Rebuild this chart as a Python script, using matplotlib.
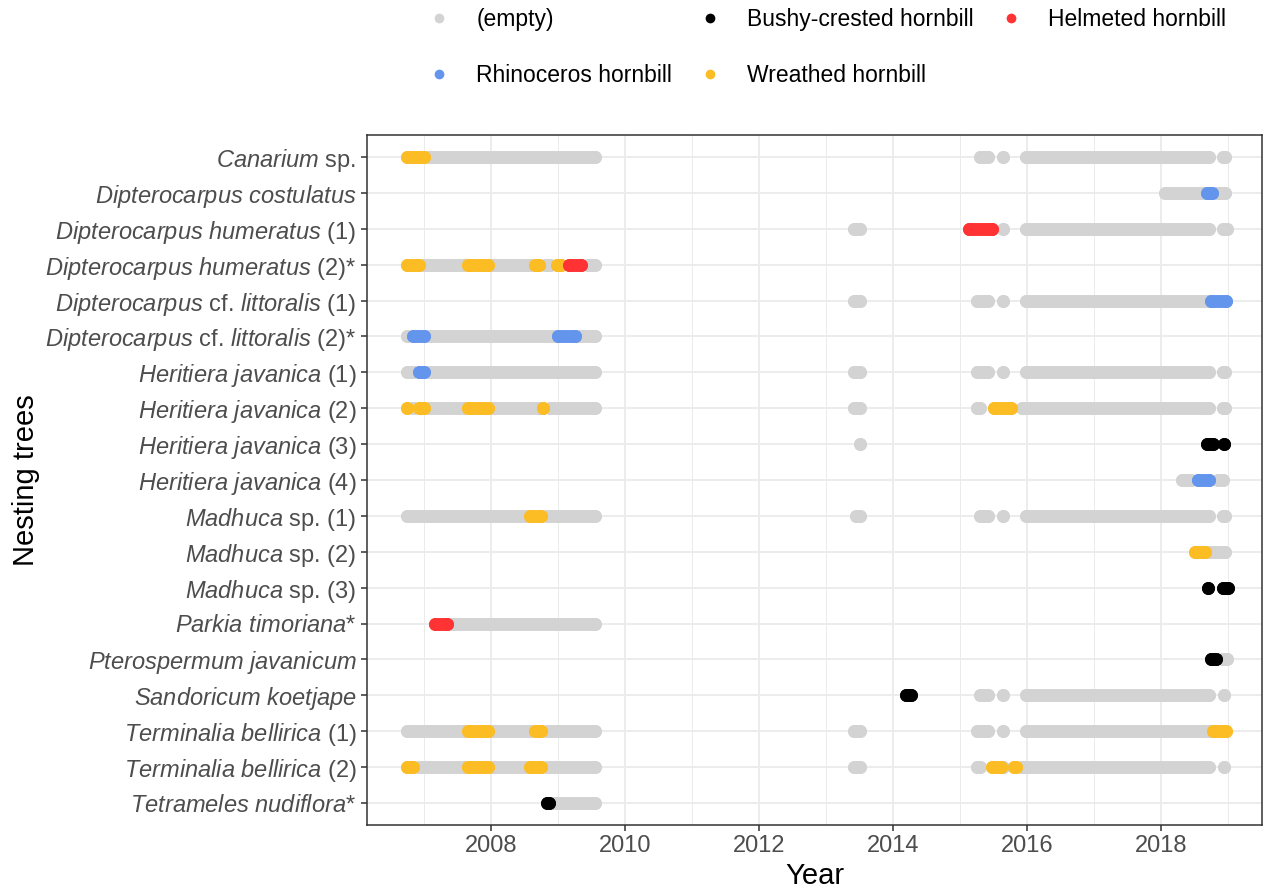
import matplotlib
matplotlib.use("Agg")
import matplotlib.pyplot as plt
from matplotlib.lines import Line2D
from matplotlib.ticker import MultipleLocator

plt.rcParams['font.family'] = ['Liberation Sans', 'DejaVu Sans']
plt.rcParams['mathtext.fontset'] = 'custom'
plt.rcParams['mathtext.it'] = 'Liberation Sans:italic'
plt.rcParams['mathtext.rm'] = 'Liberation Sans'

# nesting trees, top to bottom
trees = [
    r"$\mathit{Canarium}$ sp.",
    r"$\mathit{Dipterocarpus\ costulatus}$",
    r"$\mathit{Dipterocarpus\ humeratus}$ (1)",
    r"$\mathit{Dipterocarpus\ humeratus}$ (2)*",
    r"$\mathit{Dipterocarpus}$ cf. $\mathit{littoralis}$ (1)",
    r"$\mathit{Dipterocarpus}$ cf. $\mathit{littoralis}$ (2)*",
    r"$\mathit{Heritiera\ javanica}$ (1)",
    r"$\mathit{Heritiera\ javanica}$ (2)",
    r"$\mathit{Heritiera\ javanica}$ (3)",
    r"$\mathit{Heritiera\ javanica}$ (4)",
    r"$\mathit{Madhuca}$ sp. (1)",
    r"$\mathit{Madhuca}$ sp. (2)",
    r"$\mathit{Madhuca}$ sp. (3)",
    r"$\mathit{Parkia\ timoriana}$*",
    r"$\mathit{Pterospermum\ javanicum}$",
    r"$\mathit{Sandoricum\ koetjape}$",
    r"$\mathit{Terminalia\ bellirica}$ (1)",
    r"$\mathit{Terminalia\ bellirica}$ (2)",
    r"$\mathit{Tetrameles\ nudiflora}$*",
]

# observed runs of monthly checks: (tree index, first year, last year)
empty_runs = [
    (0, 2007.08, 2009.55), (0, 2015.30, 2015.42), (0, 2015.64, 2015.64), (0, 2015.99, 2018.71), (0, 2018.93, 2018.96),
    (1, 2018.06, 2018.62), (1, 2018.83, 2018.95),
    (2, 2013.42, 2013.50), (2, 2015.64, 2015.64), (2, 2015.99, 2018.71), (2, 2018.92, 2018.99),
    (3, 2007.00, 2007.58), (3, 2008.00, 2008.58), (3, 2008.80, 2008.88), (3, 2009.45, 2009.55),
    (4, 2013.42, 2013.50), (4, 2015.26, 2015.42), (4, 2015.64, 2015.64), (4, 2015.99, 2018.71),
    (5, 2006.75, 2006.75), (5, 2007.08, 2008.92), (5, 2009.33, 2009.55),
    (6, 2006.75, 2006.83), (6, 2007.08, 2009.55), (6, 2013.42, 2013.50), (6, 2015.26, 2015.42),
    (6, 2015.64, 2015.64), (6, 2015.99, 2018.71), (6, 2018.93, 2018.96),
    (7, 2006.83, 2006.83), (7, 2007.08, 2007.58), (7, 2008.00, 2008.72), (7, 2008.88, 2009.55),
    (7, 2013.42, 2013.50), (7, 2015.25, 2015.30), (7, 2015.92, 2018.71), (7, 2018.93, 2018.96),
    (8, 2013.50, 2013.50),
    (9, 2018.32, 2018.45), (9, 2018.85, 2018.93),
    (10, 2006.75, 2008.50), (10, 2008.83, 2009.55), (10, 2013.45, 2013.50), (10, 2015.30, 2015.42),
    (10, 2015.64, 2015.64), (10, 2015.99, 2018.71), (10, 2018.93, 2018.96),
    (11, 2018.73, 2018.95),
    (13, 2007.42, 2009.55),
    (14, 2018.93, 2018.98),
    (15, 2015.30, 2015.42), (15, 2015.64, 2015.64), (15, 2015.99, 2018.71), (15, 2018.94, 2018.94),
    (16, 2006.75, 2007.58), (16, 2008.00, 2008.58), (16, 2008.83, 2009.55), (16, 2013.42, 2013.50),
    (16, 2015.26, 2015.42), (16, 2015.64, 2015.64), (16, 2015.99, 2018.71),
    (17, 2006.92, 2007.58), (17, 2008.00, 2008.50), (17, 2008.83, 2009.55), (17, 2013.42, 2013.50),
    (17, 2015.25, 2015.30), (17, 2015.64, 2015.64), (17, 2015.92, 2018.71), (17, 2018.94, 2018.94),
    (18, 2008.92, 2009.55),
]
bushy_runs = [
    (8, 2018.69, 2018.77), (8, 2018.94, 2018.94),
    (12, 2018.70, 2018.70), (12, 2018.93, 2019.00),
    (14, 2018.75, 2018.82),
    (15, 2014.19, 2014.27),
    (18, 2008.83, 2008.86),
]
helmeted_runs = [
    (2, 2015.13, 2015.47),
    (3, 2009.17, 2009.35),
    (13, 2007.16, 2007.35),
]
rhino_runs = [
    (1, 2018.68, 2018.76),
    (4, 2018.75, 2018.97),
    (5, 2006.83, 2007.00), (5, 2009.00, 2009.25),
    (6, 2006.92, 2007.00),
    (9, 2018.55, 2018.72),
]
wreathed_runs = [
    (0, 2006.75, 2007.00),
    (3, 2006.75, 2006.92), (3, 2007.66, 2007.95), (3, 2008.66, 2008.72), (3, 2008.98, 2009.05),
    (7, 2006.75, 2006.75), (7, 2006.92, 2007.00), (7, 2007.66, 2007.95), (7, 2008.78, 2008.78), (7, 2015.50, 2015.76),
    (10, 2008.58, 2008.75),
    (11, 2018.51, 2018.65),
    (16, 2007.66, 2007.95), (16, 2008.65, 2008.75), (16, 2018.78, 2018.97),
    (17, 2006.75, 2006.84), (17, 2007.66, 2007.95), (17, 2008.58, 2008.75), (17, 2015.47, 2015.61), (17, 2015.80, 2015.84),
]

groups = [
    ("(empty)", empty_runs, "#D3D3D3"),
    ("Rhinoceros hornbill", rhino_runs, "#6495ED"),
    ("Bushy-crested hornbill", bushy_runs, "#000000"),
    ("Wreathed hornbill", wreathed_runs, "#FBBC24"),
    ("Helmeted hornbill", helmeted_runs, "#FF3333"),
]

fig = plt.figure(figsize=(12.66, 8.92), dpi=100)
ax = fig.add_axes([367 / 1266, 1 - 825 / 892, (1262 - 367) / 1266, (825 - 135) / 892])

dot = 9.3
for name, runs, col in groups:
    for i, s, e in runs:
        ax.plot([s, e], [i, i], color=col, lw=dot, solid_capstyle='round',
                marker='o', ms=dot, mew=0, zorder=3)

ax.set_xlim(2006.149, 2019.507)
ax.set_ylim(len(trees) - 1 + 0.613, -0.613)
ax.set_yticks(range(len(trees)))
ax.set_yticklabels(trees)
ax.xaxis.set_major_locator(MultipleLocator(2))
ax.xaxis.set_minor_locator(MultipleLocator(1))

ax.grid(which='major', color='#EBEBEB', lw=1.3, zorder=0)
ax.grid(which='minor', axis='x', color='#EBEBEB', lw=0.7, zorder=0)
ax.set_axisbelow(True)
for sp in ax.spines.values():
    sp.set_color('#333333')
    sp.set_linewidth(1.1)
ax.tick_params(which='major', length=4, width=1.1, color='#333333', labelcolor='#4D4D4D', labelsize=17)
ax.tick_params(which='minor', length=0)

ax.set_xlabel("Year", fontsize=21, labelpad=3)
ax.set_ylabel("Nesting trees", fontsize=21, labelpad=4)

handles = [Line2D([], [], ls='none', marker='o', ms=7, mew=0, color=col) for _, _, col in groups]
labels = [name for name, _, _ in groups]
fig.legend(handles, labels, loc='center', bbox_to_anchor=(0.654, 0.947), ncol=3, frameon=False,
           fontsize=16.5, labelspacing=1.45, columnspacing=1.25, handlelength=0.8, handletextpad=1.2)

fig.savefig("out.png", dpi=100)
